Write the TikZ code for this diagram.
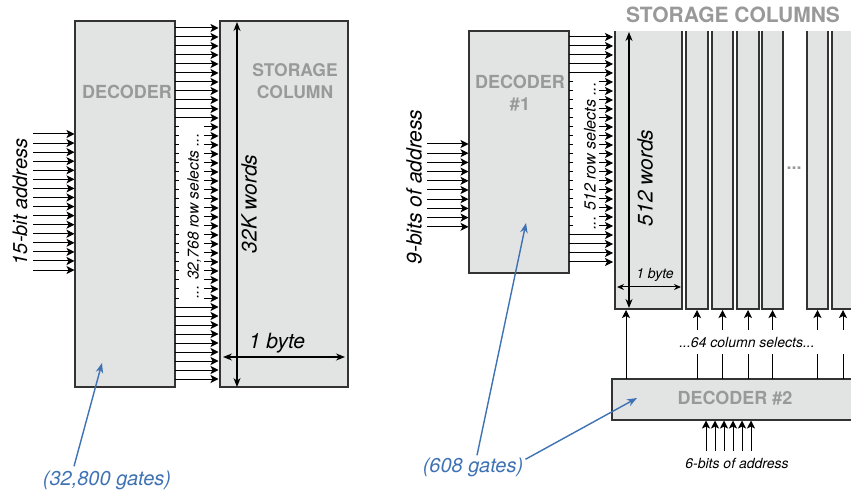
\documentclass[tikz,border=0pt]{standalone}
\usepackage{fontspec}
\setmainfont{TeX Gyre Heros}
\usetikzlibrary{arrows.meta,calc}
\definecolor{boxfill}{HTML}{E2E3E3}
\definecolor{labgray}{HTML}{999999}
\definecolor{gateblue}{HTML}{3E72B4}
\definecolor{edgecol}{HTML}{333333}
\newcommand\fsz[2]{\fontsize{#1}{#2}\selectfont}
\begin{document}
\begin{tikzpicture}[x=1pt,y=-1pt,
  box/.style={draw=edgecol, fill=boxfill, line width=1.2pt, inner sep=0pt, outer sep=0pt, anchor=north west},
  colfill/.style={fill=boxfill, inner sep=0pt, outer sep=0pt, anchor=north west},
  sig/.style={line width=1pt, -{Stealth[length=8pt,width=8pt,inset=2pt]}},
  ticksig/.style={line width=1pt},
  dimarrow/.style={line width=1.2pt, {Stealth[length=9pt,width=7pt]}-{Stealth[length=9pt,width=7pt]}},
  smalldim/.style={line width=1pt, {Stealth[length=7pt,width=6pt]}-{Stealth[length=7pt,width=6pt]}},
  gatearrow/.style={draw=gateblue, line width=1.4pt, -{Stealth[length=10pt,width=7.5pt]}},
  boxtitle/.style={text=labgray, font=\bfseries\fsz{18}{22}, align=center, inner sep=0pt},
  lbl/.style={inner sep=0pt},
]
\path[use as bounding box, clip] (0,0) rectangle (851,494);
\fill[white] (0,0) rectangle (851,494);

% ---------------- left design ----------------
\node[box, minimum width=100pt, minimum height=366pt] (decL) at (75,21) {};
\node[box, minimum width=128pt, minimum height=366pt] (storL) at (220,21) {};

\foreach \yy in {28,37,...,118}
  \draw[sig, shorten >=1.5pt] (decL.east |- 0,\yy) -- (storL.west |- 0,\yy);
\foreach \yy in {307,316,...,379}
  \draw[sig, shorten >=1.5pt] (decL.east |- 0,\yy) -- (storL.west |- 0,\yy);
\foreach \yy in {127,136,...,298}{
  \draw[ticksig] (decL.east |- 0,\yy) -- ++(4,0);
  \draw[sig, shorten >=1.5pt] (204,\yy) -- (storL.west |- 0,\yy);
}
\foreach \k in {0,...,15}{
  \pgfmathsetmacro\yy{134+9.07*\k}
  \draw[sig, shorten >=0.5pt] (33,\yy) -- (decL.west |- 0,\yy);
}

\node[lbl, rotate=90, font=\itshape\fsz{20}{24}] (addrL) at (20,202) {15-bit address};
\node[lbl, rotate=90, font=\itshape\fsz{15.5}{18}] (rowsL) at (194,216) {... 32,768 row selects ...};
\node[lbl, rotate=90, font=\itshape\fsz{21}{24}] (wordsL) at (249,204) {32K words};
\draw[dimarrow] ($(storL.north west)+(17,1)$) -- ($(storL.south west)+(17,0)$);
\draw[dimarrow] ($(storL.west |- 0,357)+(3,0)$) -- ($(storL.east |- 0,357)+(-3,0)$);
\node[lbl, font=\itshape\fsz{21}{24}] (byteL) at (277,343) {1 byte};
\node[boxtitle] (decLt) at (127,92) {DECODER};
\node[boxtitle, font=\bfseries\fsz{17.5}{22}] (storLt) at (295,81) {STORAGE\\COLUMN};
\node[lbl, font=\itshape\fsz{20}{24}, text=gateblue] (gA) at (107,480) {(32,800 gates)};
\coordinate (tA) at (102,363);
\draw[gatearrow] ([xshift=-33pt,yshift=4pt]gA.north) -- (tA);

% ---------------- right design ----------------
\node[box, minimum width=100pt, minimum height=242pt] (decR) at (469,31) {};
\foreach \a/\b/\n in {615/682/1,686/708/2,712/733/3,737/759/4,762/783/5,807/828/6,832/854/7}{
  \pgfmathsetmacro\ww{\b-\a}
  \node[colfill, minimum width=\ww pt, minimum height=278pt] (col\n) at (\a,31) {};
  \draw[draw=edgecol, line width=1.2pt] (col\n.north west) -- (col\n.south west) -- (col\n.south east) -- (col\n.north east);
}

\foreach \yy in {37,46,...,73}
  \draw[sig, shorten >=2pt] (decR.east |- 0,\yy) -- (col1.west |- 0,\yy);
\foreach \yy in {235,244,253,262}
  \draw[sig, shorten >=2pt] (decR.east |- 0,\yy) -- (col1.west |- 0,\yy);
\foreach \yy in {82,91,...,226}{
  \draw[ticksig] (decR.east |- 0,\yy) -- ++(4,0);
  \draw[sig, shorten >=2pt] (599,\yy) -- (col1.west |- 0,\yy);
}
\foreach \k in {0,...,9}{
  \pgfmathsetmacro\yy{144+9.2*\k}
  \draw[sig, shorten >=0.5pt] (427,\yy) -- (decR.west |- 0,\yy);
}

\node[lbl, rotate=90, font=\itshape\fsz{21}{24}] (addrR) at (414,187) {9-bits of address};
\node[boxtitle] (decRt) at (520,93) {DECODER\\\#1};
\node[lbl, rotate=90, font=\itshape\fsz{16}{18}] (rowsR) at (590,156) {... 512 row selects ...};
\node[lbl, rotate=90, font=\itshape\fsz{21}{24}] (wordsR) at (645,178) {512 words};
\draw[dimarrow] ($(col1.north west)+(14,1)$) -- ($(col1.south west)+(14,-1)$);
\draw[smalldim] ($(col1.west |- 0,287)+(2,0)$) -- ($(col1.east |- 0,287)+(-1,0)$);
\node[lbl, font=\itshape\fsz{14}{16}] (byteR) at (655,275) {1 byte};
\node[boxtitle, font=\bfseries\fsz{21}{24}] (storRt) at (733,15) {STORAGE COLUMNS};
\node[boxtitle] (dotsR) at (794,168) {...};

\node[box, minimum width=250pt, minimum height=41pt] (dec2) at (612,379) {};
\node[boxtitle] (dec2t) at (735,398) {DECODER \#2};
\draw[sig, shorten >=1pt] (dec2.north -| 626,0) -- (col1.south -| 626,0);
\foreach \n in {2,...,7}{
  \draw[sig, shorten >=1pt] ([yshift=-21pt]col\n.south) -- (col\n.south);
  \draw[ticksig] (dec2.north -| col\n.south) -- ([yshift=-45pt]col\n.south);
}
\node[lbl, font=\itshape\fsz{14}{16}] (colsel) at (747,343) {...64 column selects...};
\foreach \x in {706,715,...,751}
  \draw[sig, shorten >=0.5pt] (\x,451) -- (dec2.south -| \x,0);
\node[lbl, font=\itshape\fsz{14}{16}] (addr2) at (737,463) {6-bits of address};
\node[lbl, font=\itshape\fsz{20}{24}, text=gateblue] (gB) at (473,467) {(608 gates)};
\coordinate (tB) at (526,223);
\coordinate (tC) at (637,398);
\draw[gatearrow] ([xshift=4pt,yshift=2pt]gB.north) -- (tB);
\draw[gatearrow] ([xshift=2pt,yshift=-2pt]gB.north east) -- (tC);
\end{tikzpicture}
\end{document}
